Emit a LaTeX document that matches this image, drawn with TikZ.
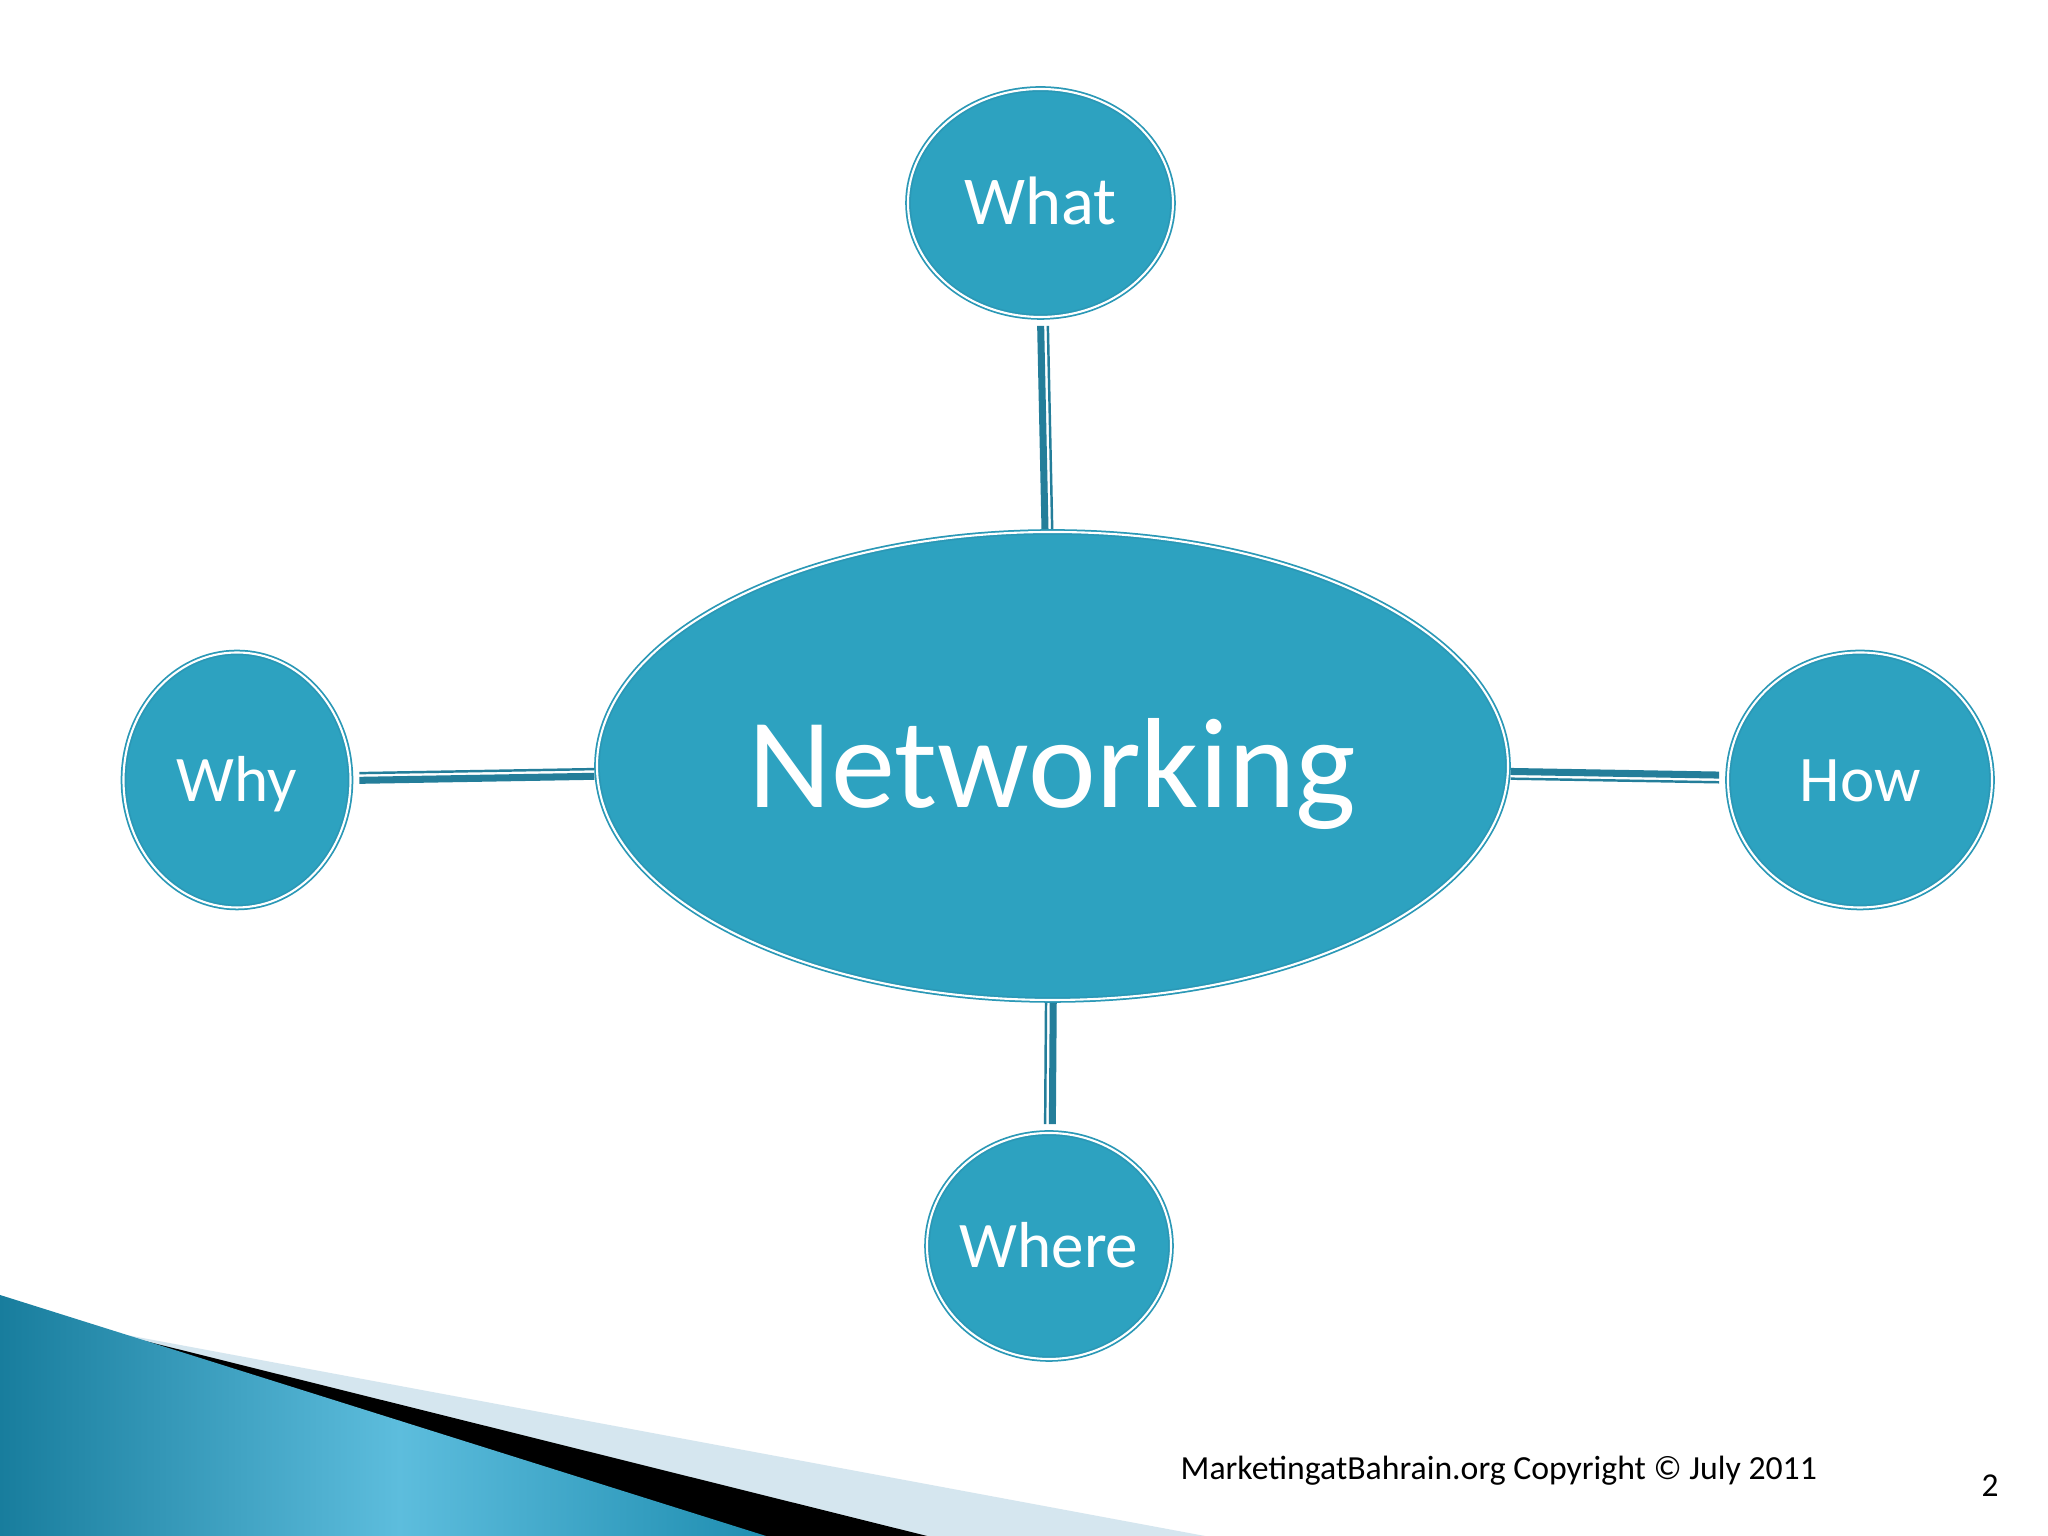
\documentclass[tikz,border=0pt]{standalone}
\usepackage{fontspec}
\setmainfont{Carlito}
\usepackage{tikz}
\usepackage{xcolor}
\usetikzlibrary{shapes.geometric, calc}

\definecolor{bubbleblue}{HTML}{2DA2C0}
\definecolor{rimblue}{HTML}{2A98B6}
\definecolor{linkteal}{HTML}{247E9A}
\definecolor{wedgedark}{HTML}{187D9D}
\definecolor{wedgelight}{HTML}{5DBDDD}
\definecolor{wedgeedge}{HTML}{1E8DB0}
\definecolor{bandlight}{HTML}{D5E6EF}

\begin{document}
\begin{tikzpicture}[
  bubble/.style={ellipse, inner sep=0pt, inner xsep=-8pt, fill=bubbleblue, draw=rimblue, line width=0.5pt, double=white, double distance=0.6pt, text=white, font=\fontsize{18.5}{22}\selectfont, text height=12pt, text depth=0pt},
  hub/.style={bubble, font=\fontsize{36.5}{44}\selectfont, text height=23.5pt},
  linkthick/.style={draw=linkteal, line width=2pt, shorten <=0.6pt, shorten >=0.08cm},
  linkthin/.style={draw=linkteal, line width=0.7pt, shorten <=0.6pt, shorten >=0.08cm},
]
\useasboundingbox[fill=white] (0,0) rectangle (20.48,15.36);

\fill[bandlight] (1.05,2.05) -- (12.05,0) -- (0,0) -- cycle;
\fill[black] (1.05,2.05) -- (9.27,0) -- (0,0) -- cycle;
\begin{scope}
  \clip (0,2.41) -- (7.66,0) -- (0,0) -- cycle;
  \shade[left color=wedgedark, right color=wedgelight] (0,0) rectangle (4.0,2.45);
  \shade[left color=wedgelight, right color=wedgeedge] (3.99,0) rectangle (7.70,2.45);
\end{scope}

\node[hub, minimum width=9.11cm, minimum height=4.68cm] (net) at (10.525,7.70) {Networking};
\node[bubble, minimum width=2.65cm, minimum height=2.28cm, font=\fontsize{19.5}{23}\selectfont, text height=12.5pt] (what) at (10.405,13.33) {What};
\node[bubble, minimum width=2.27cm, minimum height=2.55cm] (why) at (2.37,7.56) {Why};
\node[bubble, minimum width=2.64cm, minimum height=2.55cm] (how) at (18.60,7.56) {How};
\node[bubble, minimum width=2.44cm, minimum height=2.26cm] (where) at (10.49,2.90) {Where};

\draw[linkthick, transform canvas={xshift=-0.7pt}] (net) -- (what);
\draw[linkthin, transform canvas={xshift=1.35pt}] (net) -- (what);
\draw[linkthick, transform canvas={yshift=0.7pt}] (net) -- (how);
\draw[linkthin, transform canvas={yshift=-1.35pt}] (net) -- (how);
\draw[linkthick, transform canvas={yshift=-0.7pt}] (net) -- (why);
\draw[linkthin, transform canvas={yshift=1.35pt}] (net) -- (why);
\draw[linkthick, transform canvas={xshift=0.7pt}] (net) -- (where);
\draw[linkthin, transform canvas={xshift=-1.35pt}] (net) -- (where);

\node[anchor=base west, font=\fontsize{9.6}{12}\selectfont, inner sep=0pt] (credit) at (11.80,0.56) {MarketingatBahrain.org Copyright © July 2011};
\node[anchor=base west, font=\fontsize{9.5}{12}\selectfont, inner sep=0pt] (page) at (19.81,0.39) {2};
\end{tikzpicture}
\end{document}
